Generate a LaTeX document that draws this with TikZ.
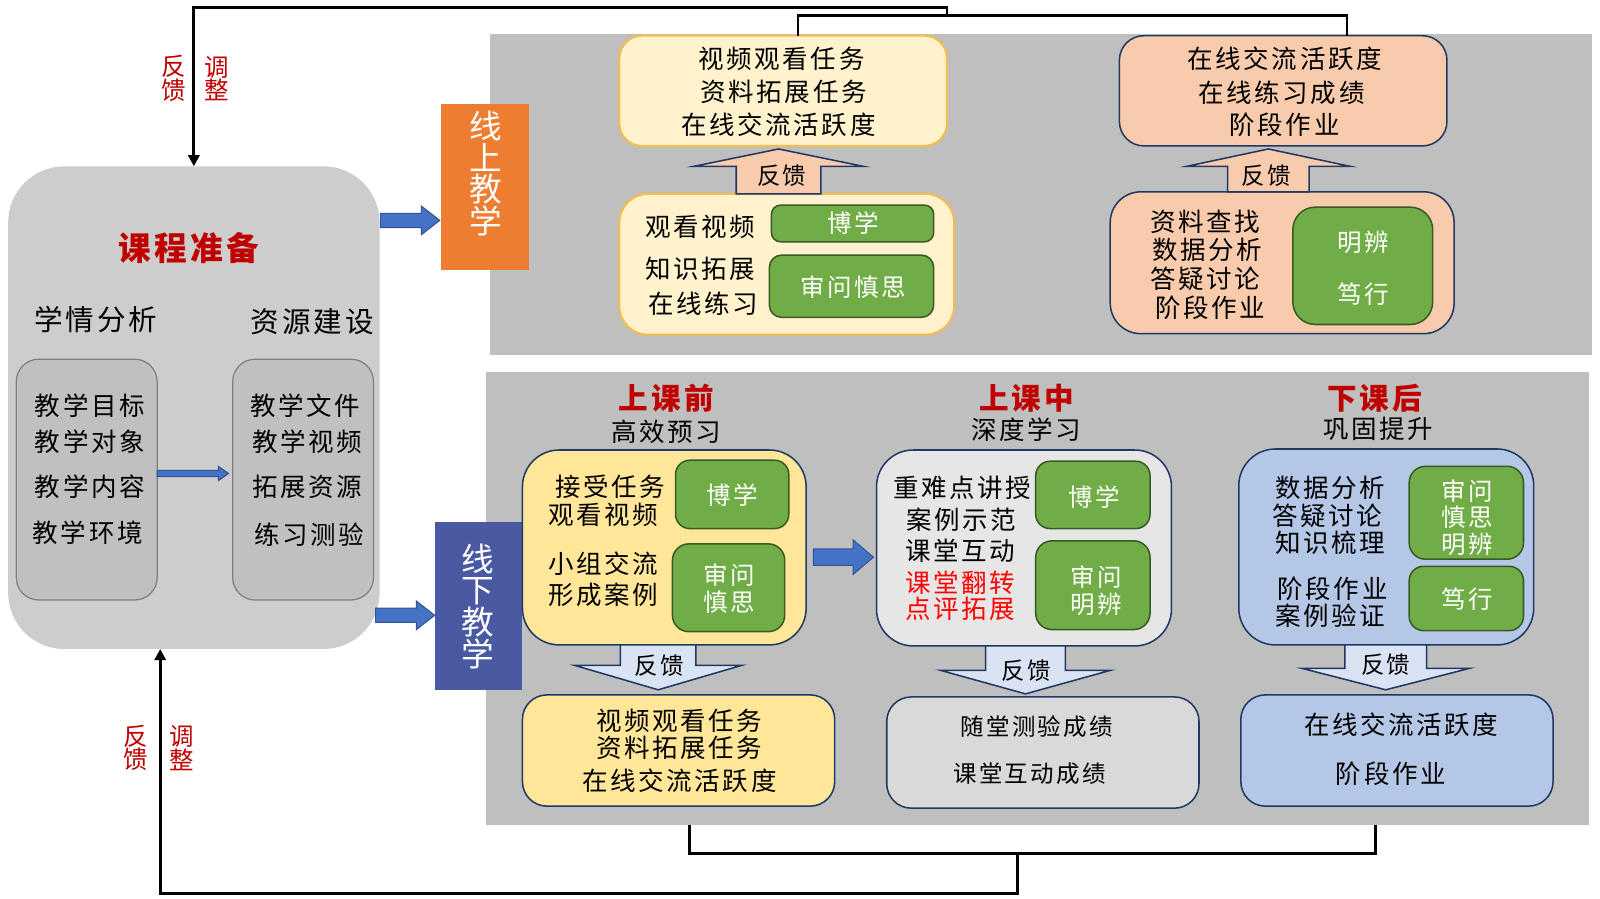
\documentclass[tikz,border=0pt]{standalone}
\usepackage{fontspec}
\setmainfont{Noto Sans CJK SC}
\newfontfamily\spc[LetterSpace=10]{Noto Sans CJK SC}
\usetikzlibrary{arrows.meta}
\definecolor{navy}{HTML}{203864}
\definecolor{grn}{HTML}{70AD47}
\definecolor{grnd}{HTML}{3A5A25}
\definecolor{orng}{HTML}{ED7D31}
\definecolor{offb}{HTML}{4A5AA2}
\definecolor{panel}{HTML}{BFBFBF}
\definecolor{prepg}{HTML}{CDCDCD}
\definecolor{inbox}{HTML}{C0C0C0}
\definecolor{inbd}{HTML}{7F7F7F}
\definecolor{ylw}{HTML}{FFF2CC}
\definecolor{gold}{HTML}{F4BE4C}
\definecolor{peach}{HTML}{F8CBAD}
\definecolor{yltwo}{HTML}{FFE699}
\definecolor{lgone}{HTML}{E7E6E6}
\definecolor{lgtwo}{HTML}{D9D9D9}
\definecolor{lbone}{HTML}{B4C7E7}
\definecolor{lbtwo}{HTML}{DAE3F3}
\definecolor{dred}{HTML}{C00000}
\definecolor{bred}{HTML}{FF0000}
\definecolor{blu}{HTML}{4472C4}
\definecolor{blud}{HTML}{2F5597}
% right-pointing block arrow: style, x tail, x tip, y, shaft half, head half, head length
\newcommand\blkR[7]{\draw[#1] (#2,#4-#5) -- (#3-#7,#4-#5) -- (#3-#7,#4-#6) -- (#3,#4) -- (#3-#7,#4+#6) -- (#3-#7,#4+#5) -- (#2,#4+#5) -- cycle;}
% vertical block arrow: style, cx, y tail, y head base, y tip, shaft half, head half
\newcommand\blkV[7]{\draw[#1] (#2-#6,#3) -- (#2-#6,#4) -- (#2-#7,#4) -- (#2,#5) -- (#2+#7,#4) -- (#2+#6,#4) -- (#2+#6,#3) -- cycle;}
\begin{document}
\begin{tikzpicture}[x=1pt,y=-1pt,
  every node/.style={inner sep=0pt,outer sep=0pt},
  rbox/.style={rectangle,anchor=north west,line width=1.5pt},
  gbox/.style={rbox,fill=grn,draw=grnd,line width=1.5pt},
  tx/.style={font=\spc\fontsize{25}{25}\selectfont},
  ts/.style={font=\spc\fontsize{23}{23}\selectfont},
  wt/.style={font=\spc\fontsize{24}{27}\selectfont,text=white,align=center},
  hdr/.style={font=\spc\fontsize{29}{29}\selectfont\bfseries,text=dred},
  sub/.style={font=\spc\fontsize{25}{25}\selectfont},
  fbt/.style={font=\fontsize{24}{23}\selectfont,text=dred,align=center},
  vtx/.style={font=\fontsize{32}{31}\selectfont,text=white,align=center},
  fbl/.style={line width=2.8pt,black},
  barrow/.style={fill=blu,draw=blud,line width=1pt},
  uparrow/.style={fill=peach,draw=navy,line width=1.5pt},
  dnarrow/.style={fill=lbtwo,draw=navy,line width=1.5pt}]
\useasboundingbox (0,0) rectangle (1568,881);
\fill[white] (0,0) rectangle (1568,881);

% panels
\node[rbox,fill=panel,minimum width=1080pt,minimum height=315pt] (up) at (480,33) {};
\node[rbox,fill=panel,minimum width=1081pt,minimum height=443pt] (low) at (476,365) {};

% course preparation
\node[rbox,fill=prepg,rounded corners=55pt,minimum width=364pt,minimum height=473pt] (prep) at (8,163) {};
\node[font=\spc\fontsize{32}{32}\selectfont\bfseries,text=dred] (prepT) at (185,243) {课程准备};
\node[font=\spc\fontsize{28}{28}\selectfont] (xq) at (94,313) {学情分析};
\node[font=\spc\fontsize{28}{28}\selectfont] (zy) at (306,315) {资源建设};
\node[rbox,fill=inbox,draw=inbd,line width=1.2pt,rounded corners=22pt,minimum width=138pt,minimum height=236pt] (inL) at (16,352) {};
\node[rbox,fill=inbox,draw=inbd,line width=1.2pt,rounded corners=22pt,minimum width=138pt,minimum height=236pt] (inR) at (228,352) {};
\node[tx] (l1) at (88,398) {教学目标};
\node[tx] (l2) at (88,433) {教学对象};
\node[tx] (l3) at (88,477) {教学内容};
\node[tx] (l4) at (86,522) {教学环境};
\node[tx] (r1) at (299,398) {教学文件};
\node[tx] (r2) at (301,433) {教学视频};
\node[tx] (r3) at (301,477) {拓展资源};
\node[tx] (r4) at (303,524) {练习测验};
\blkR{barrow}{154}{224}{464}{3}{7}{10}

% labels online / offline
\node[rbox,fill=orng,minimum width=86pt,minimum height=163pt] (on) at (432,102) {};
\node[vtx] (onT) at (476,170) {线\\上\\教\\学};
\node[rbox,fill=offb,minimum width=86pt,minimum height=164pt] (off) at (426,512) {};
\node[vtx] (offT) at (468,594) {线\\下\\教\\学};
\blkR{barrow}{373}{431}{216}{7}{14}{18}
\blkR{barrow}{368}{426}{603}{7}{14}{18}

% upper panel: online teaching
\node[rbox,fill=ylw,draw=gold,line width=2pt,rounded corners=22pt,minimum width=321pt,minimum height=108pt] (A) at (607,35) {};
\node[tx] (a1) at (766,58) {视频观看任务};
\node[tx] (a2) at (768,90) {资料拓展任务};
\node[tx] (a3) at (763,122) {在线交流活跃度};
\node[rbox,fill=ylw,draw=gold,line width=2pt,rounded corners=28pt,minimum width=328pt,minimum height=138pt] (B) at (607,190) {};
\node[tx] (b1) at (686,222) {观看视频};
\node[tx] (b2) at (686,263) {知识拓展};
\node[tx] (b3) at (689,298) {在线练习};
\node[gbox,rounded corners=9pt,minimum width=159pt,minimum height=36pt] (gB1) at (756,201) {};
\node[wt] (gB1t) at (836,219) {博学};
\node[gbox,rounded corners=12pt,minimum width=161pt,minimum height=61pt] (gB2) at (754,250) {};
\node[wt] (gB2t) at (836,281) {审问慎思};
\blkV{uparrow}{763}{190}{163}{146}{41.5}{83}
\node[ts] (fbA) at (766,172) {反馈};

\node[rbox,fill=peach,draw=navy,rounded corners=24pt,minimum width=321pt,minimum height=108pt] (C) at (1097,35) {};
\node[tx] (c1) at (1259,58) {在线交流活跃度};
\node[tx] (c2) at (1256,91) {在线练习成绩};
\node[tx] (c3) at (1259,122) {阶段作业};
\node[rbox,fill=peach,draw=navy,rounded corners=30pt,minimum width=337pt,minimum height=139pt] (D) at (1088,188) {};
\node[tx] (d1) at (1181,217) {资料查找};
\node[tx] (d2) at (1183,245) {数据分析};
\node[tx] (d3) at (1181,273) {答疑讨论};
\node[tx] (d4) at (1186,302) {阶段作业};
\node[gbox,rounded corners=22pt,minimum width=137pt,minimum height=115pt] (gD) at (1267,203) {};
\node[wt] (gD1) at (1336,237) {明辨};
\node[wt] (gD2) at (1336,288) {笃行};
\blkV{uparrow}{1243}{188}{163}{146}{40}{80}
\node[ts] (fbC) at (1241,172) {反馈};

% top feedback connector
\coordinate (tA) at (782,15);
\coordinate (tC) at (1320,15);
\coordinate (tM) at (928,15);
\coordinate (tL) at (190,7);
\draw[fbl] (tA |- A.north) -- (tA) -- (tC) -- (tC |- C.north);
\draw[fbl,-{Triangle[length=11pt,width=11pt]}] (tM) -- (tM |- tL) -- (tL) -- (tL |- prep.north);
\node[fbt] (fbt1) at (170,77) {反\\馈};
\node[fbt] (fbt2) at (212,77) {调\\整};

% lower panel: offline teaching
\node[hdr] (h1) at (653,390) {上课前};
\node[sub] (s1) at (653,423) {高效预习};
\node[hdr] (h2) at (1006,390) {上课中};
\node[sub] (s2) at (1006,421) {深度学习};
\node[hdr] (h3) at (1347,390) {下课后};
\node[sub] (s3) at (1351,420) {巩固提升};

\node[rbox,fill=yltwo,draw=navy,rounded corners=36pt,minimum width=278pt,minimum height=191pt] (E) at (512,441) {};
\node[tx] (e1) at (598,477) {接受任务};
\node[tx] (e2) at (591,505) {观看视频};
\node[tx] (e3) at (591,552) {小组交流};
\node[tx] (e4) at (591,583) {形成案例};
\node[gbox,rounded corners=14pt,minimum width=111pt,minimum height=67pt] (gE1) at (662,451) {};
\node[wt] (gE1t) at (718,485) {博学};
\node[gbox,rounded corners=16pt,minimum width=110pt,minimum height=86pt] (gE2) at (659,533) {};
\node[wt] (gE2t) at (715,577) {审问\\慎思};

\blkR{barrow}{797}{856}{546}{8}{17}{20}

\node[rbox,fill=lgone,draw=navy,rounded corners=36pt,minimum width=289pt,minimum height=192pt] (F) at (859,441) {};
\node[tx] (f1) at (943,478) {重难点讲授};
\node[tx] (f2) at (942,509) {案例示范};
\node[tx] (f3) at (941,540) {课堂互动};
\node[tx,text=bred] (f4) at (941,571) {课堂翻转};
\node[tx,text=bred] (f5) at (941,597) {点评拓展};
\node[gbox,rounded corners=14pt,minimum width=112pt,minimum height=66pt] (gF1) at (1015,452) {};
\node[wt] (gF1t) at (1072,487) {博学};
\node[gbox,rounded corners=16pt,minimum width=112pt,minimum height=87pt] (gF2) at (1015,530) {};
\node[wt] (gF2t) at (1074,579) {审问\\明辨};

\node[rbox,fill=lbone,draw=navy,rounded corners=36pt,minimum width=289pt,minimum height=192pt] (G) at (1214,440) {};
\node[tx] (g1) at (1304,478) {数据分析};
\node[tx] (g2) at (1301,505) {答疑讨论};
\node[tx] (g3) at (1304,532) {知识梳理};
\node[tx] (g4) at (1306,577) {阶段作业};
\node[tx] (g5) at (1304,603) {案例验证};
\node[gbox,rounded corners=16pt,minimum width=112pt,minimum height=91pt] (gG1) at (1381,457) {};
\node[font=\spc\fontsize{24}{26}\selectfont,text=white,align=center] (gG1t) at (1438,507) {审问\\慎思\\明辨};
\node[gbox,rounded corners=14pt,minimum width=112pt,minimum height=63pt] (gG2) at (1381,555) {};
\node[wt] (gG2t) at (1438,587) {笃行};

\blkV{dnarrow}{645}{632}{652}{676}{37}{82}
\node[ts] (fbE) at (646,652) {反馈};
\blkV{dnarrow}{1005}{633}{657}{680}{39}{83}
\node[ts] (fbF) at (1006,657) {反馈};
\blkV{dnarrow}{1358}{632}{655}{676}{40}{82}
\node[ts] (fbG) at (1358,651) {反馈};

\node[rbox,fill=yltwo,draw=navy,rounded corners=24pt,minimum width=306pt,minimum height=109pt] (H) at (512,681) {};
\node[tx] (hh1) at (666,706) {视频观看任务};
\node[tx] (hh2) at (666,733) {资料拓展任务};
\node[tx] (hh3) at (666,765) {在线交流活跃度};
\node[rbox,fill=lgtwo,draw=navy,rounded corners=24pt,minimum width=306pt,minimum height=109pt] (I) at (869,683) {};
\node[ts] (i1) at (1016,712) {随堂测验成绩};
\node[ts] (i2) at (1009,758) {课堂互动成绩};
\node[rbox,fill=lbone,draw=navy,rounded corners=24pt,minimum width=306pt,minimum height=109pt] (J) at (1216,681) {};
\node[tx] (j1) at (1373,710) {在线交流活跃度};
\node[tx] (j2) at (1363,758) {阶段作业};

% bottom feedback connector
\coordinate (bH) at (676,836);
\coordinate (bJ) at (1348,836);
\coordinate (bM) at (997,836);
\coordinate (bL) at (157,876);
\draw[fbl] (bH |- low.south) -- (bH) -- (bJ) -- (bJ |- low.south);
\draw[fbl,-{Triangle[length=11pt,width=11pt]}] (bM) -- (bM |- bL) -- (bL) -- (bL |- prep.south);
\node[fbt] (fbt3) at (133,733) {反\\馈};
\node[fbt] (fbt4) at (178,733) {调\\整};
\end{tikzpicture}
\end{document}
